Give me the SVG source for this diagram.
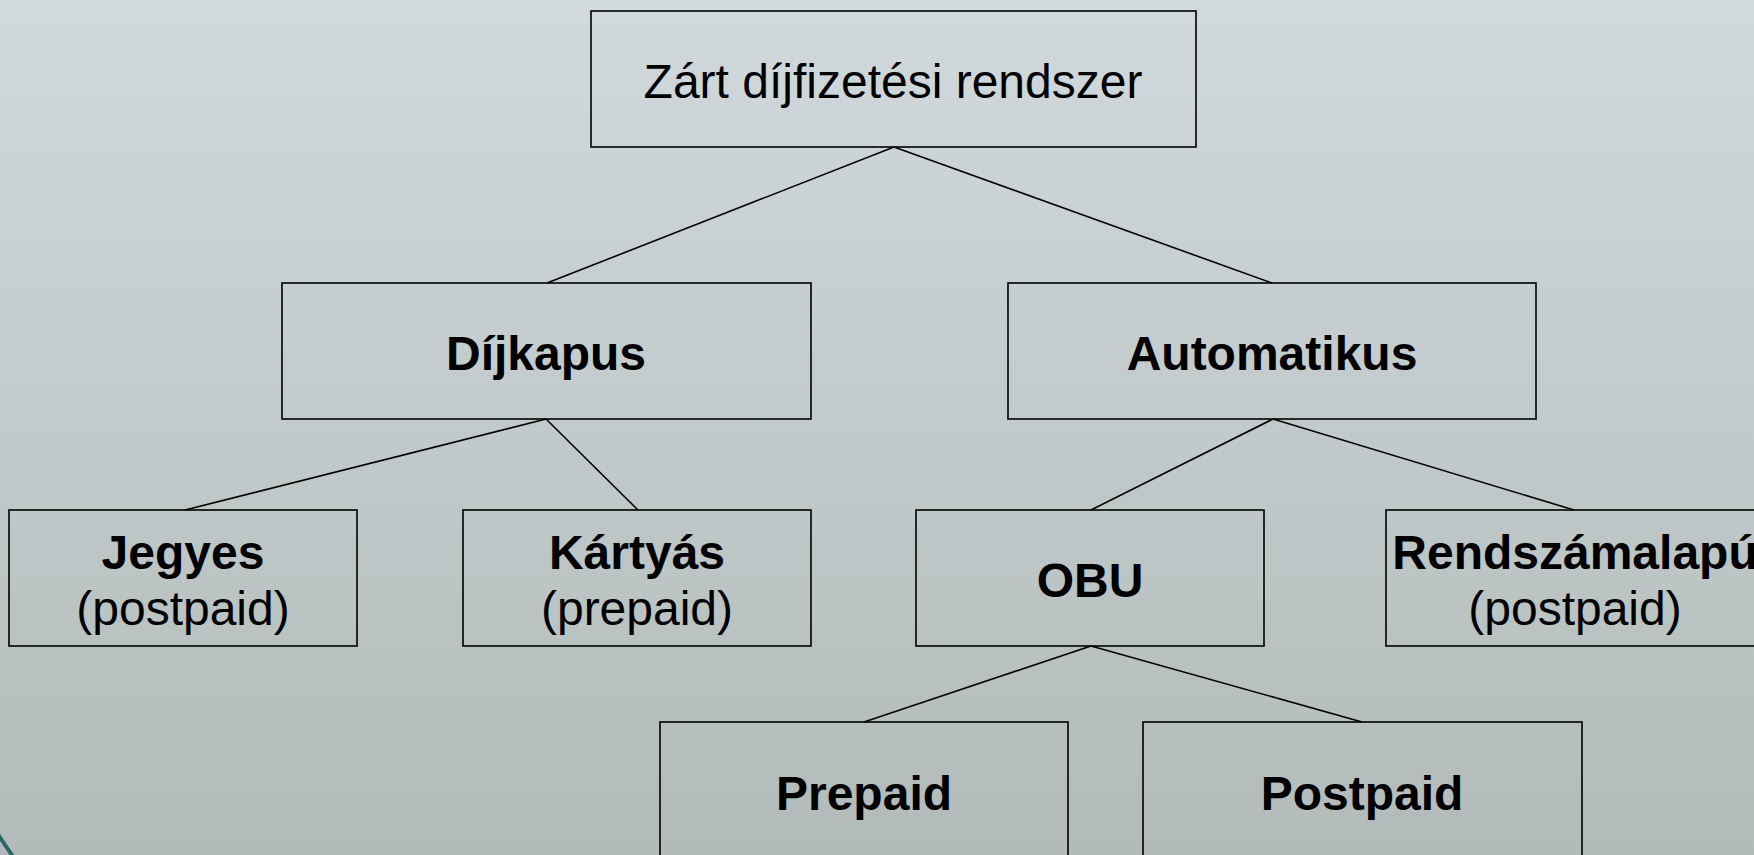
<svg xmlns="http://www.w3.org/2000/svg" width="1754" height="855" viewBox="0 0 1754 855">
  <defs>
    <linearGradient id="bg" x1="0" y1="0" x2="0" y2="1">
      <stop offset="0" stop-color="#d1d9dc"/>
      <stop offset="1" stop-color="#b2bbb9"/>
    </linearGradient>
    <style>
      .box { fill: none; stroke: #000; stroke-width: 1.6; }
      .edge { stroke: #000; stroke-width: 1.6; fill: none; }
      .t { font-family: "Liberation Sans", Arial, sans-serif; font-size: 48px; fill: #000; text-anchor: middle; }
      .b { font-weight: bold; }
    </style>
  </defs>

  <rect width="1754" height="855" fill="url(#bg)"/>
  <!-- decorative arc in the lower left corner -->
  <path d="M -3 833 Q 5 845 14 858" stroke="#2b6767" stroke-width="4" fill="none"/>

  <g id="connectors">
    <line class="edge" x1="894" y1="147" x2="547" y2="283"/>
    <line class="edge" x1="894" y1="147" x2="1272" y2="283"/>
    <line class="edge" x1="546" y1="419" x2="185" y2="510"/>
    <line class="edge" x1="546" y1="419" x2="638" y2="510"/>
    <line class="edge" x1="1273" y1="419" x2="1091" y2="510"/>
    <line class="edge" x1="1273" y1="419" x2="1574" y2="510"/>
    <line class="edge" x1="1091" y1="646" x2="864" y2="722"/>
    <line class="edge" x1="1091" y1="646" x2="1362" y2="722"/>
  </g>

  <g id="root">
    <rect class="box" x="591" y="11" width="605" height="136"/>
    <text class="t" x="893" y="98">Zárt díjfizetési rendszer</text>
  </g>

  <g id="dijkapus">
    <rect class="box" x="282" y="283" width="529" height="136"/>
    <text class="t b" x="546" y="370">Díjkapus</text>
  </g>

  <g id="automatikus">
    <rect class="box" x="1008" y="283" width="528" height="136"/>
    <text class="t b" x="1272" y="370">Automatikus</text>
  </g>

  <g id="jegyes">
    <rect class="box" x="9" y="510" width="348" height="136"/>
    <text class="t b" x="183" y="569">Jegyes</text>
    <text class="t" x="183" y="625">(postpaid)</text>
  </g>

  <g id="kartyas">
    <rect class="box" x="463" y="510" width="348" height="136"/>
    <text class="t b" x="637" y="569">Kártyás</text>
    <text class="t" x="637" y="625">(prepaid)</text>
  </g>

  <g id="obu">
    <rect class="box" x="916" y="510" width="348" height="136"/>
    <text class="t b" x="1090" y="597">OBU</text>
  </g>

  <g id="rendszamalapu">
    <rect class="box" x="1386" y="510" width="380" height="136"/>
    <text class="t b" x="1575" y="569">Rendszámalapú</text>
    <text class="t" x="1575" y="625">(postpaid)</text>
  </g>

  <g id="prepaid">
    <rect class="box" x="660" y="722" width="408" height="140"/>
    <text class="t b" x="864" y="810">Prepaid</text>
  </g>

  <g id="postpaid">
    <rect class="box" x="1143" y="722" width="439" height="140"/>
    <text class="t b" x="1362" y="810">Postpaid</text>
  </g>
</svg>
